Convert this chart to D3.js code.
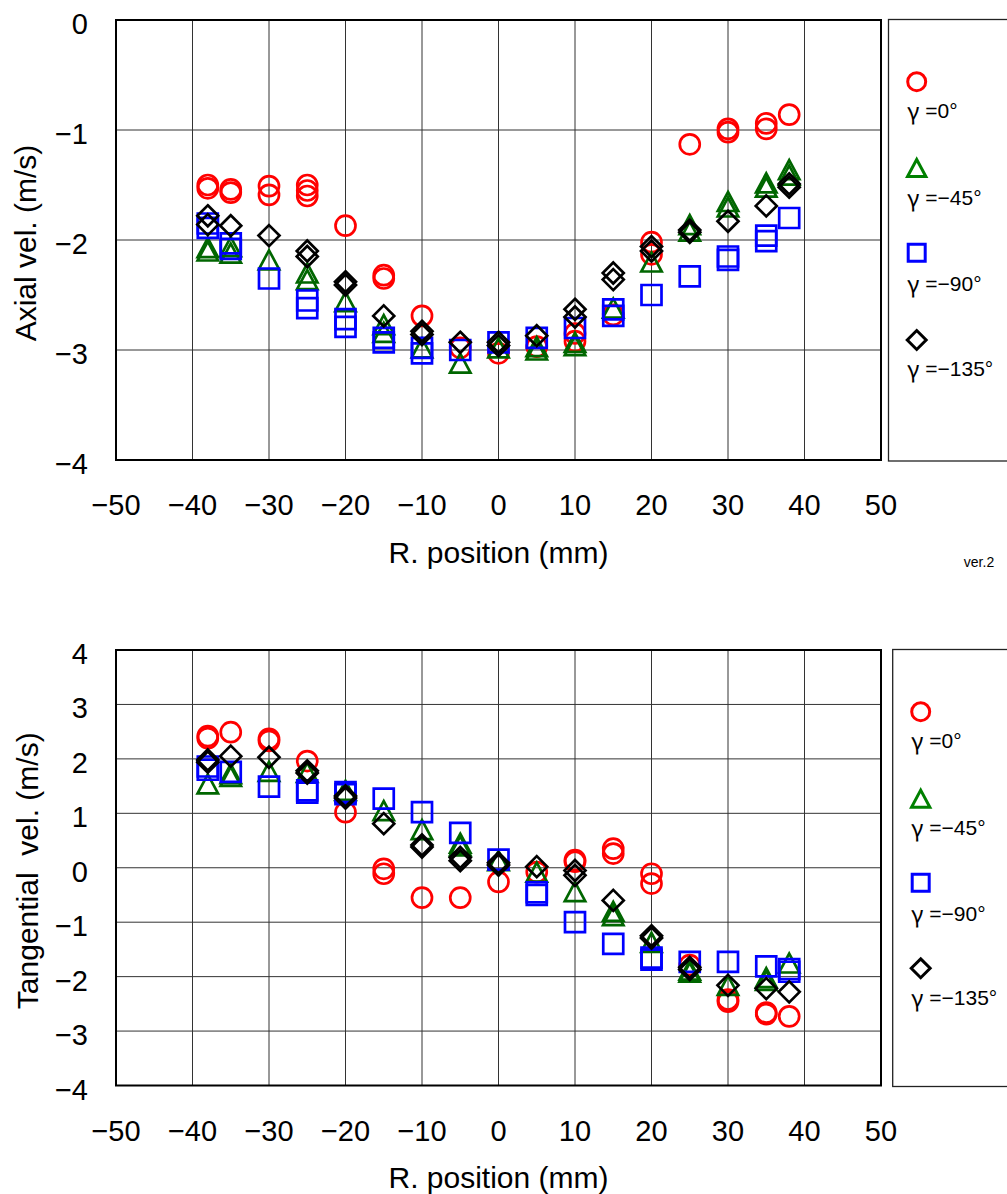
<!DOCTYPE html>
<html><head><meta charset="utf-8">
<script src="https://cdn.jsdelivr.net/npm/d3@7"></script>
<style>
html,body{margin:0;padding:0;background:#fff;}
svg{display:block;}
text{font-family:"Liberation Sans",Arial,sans-serif;fill:#000;}
</style></head>
<body>
<script>
// ---------- data ----------
const positions = [-38,-35,-30,-25,-20,-15,-10,-5,0,5,10,15,20,25,30,35,38];
const xTicks = [-50,-40,-30,-20,-10,0,10,20,30,40,50];
const axialTicks = [0,-1,-2,-3,-4];
const tangTicks = [4,3,2,1,0,-1,-2,-3,-4];
const seriesNames = ["γ =0°","γ =−45°","γ =−90°","γ =−135°"];

// repeated measurements at each position (same order as positions)
const axial0 = [[-1.50,-1.53],[-1.54,-1.57],[-1.51,-1.59],[-1.50,-1.55,-1.60],[-1.87],[-2.32,-2.35],[-2.69],[-2.98],[-3.03],[-2.97],[-2.85,-2.92],[-2.68],[-2.02,-2.13],[-1.13],[-0.99,-1.02],[-0.94,-0.99],[-0.86]];
const axial45 = [[-2.07,-2.10],[-2.06,-2.12],[-2.18],[-2.30,-2.36],[-2.56],[-2.77,-2.84],[-2.98],[-3.12],[-2.98],[-2.97,-3.00],[-2.93,-2.96],[-2.62],[-2.20],[-1.86,-1.92],[-1.65,-1.70],[-1.48,-1.52],[-1.36,-1.41]];
const axial90 = [[-1.85,-1.89],[-2.03,-2.08],[-2.35],[-2.55,-2.62],[-2.72,-2.79],[-2.89,-2.93],[-2.98,-3.03],[-3.00],[-2.93],[-2.89],[-2.80],[-2.63,-2.69],[-2.50],[-2.33],[-2.15,-2.18],[-1.96,-2.01],[-1.80]];
const axial135 = [[-1.78,-1.86],[-1.87],[-1.96],[-2.10,-2.15],[-2.38,-2.41],[-2.69],[-2.83,-2.86],[-2.93],[-2.93,-2.96],[-2.87],[-2.63,-2.70],[-2.30,-2.36],[-2.06,-2.10],[-1.91,-1.93],[-1.83],[-1.69],[-1.49,-1.52]];

const tang0 = [[2.38,2.42],[2.49],[2.33,2.37],[1.96],[1.02],[-0.02,-0.11],[-0.55],[-0.55],[-0.26],[-0.08],[0.11,0.14],[0.35,0.26],[-0.11,-0.29],[-1.79],[-2.42,-2.46],[-2.66,-2.69],[-2.73]];
const tang45 = [[1.54],[1.68,1.73],[1.77],[1.75],[1.42],[1.05],[0.70],[0.40,0.45],[0.13],[-0.08],[-0.44],[-0.80,-0.88],[-1.37],[-1.88,-1.92],[-2.16],[-2.02,-2.07],[-1.75]];
const tang90 = [[1.80,1.86],[1.76],[1.49],[1.38,1.42],[1.35,1.39],[1.27],[1.02],[0.64],[0.15],[-0.45,-0.50],[-1.00],[-1.40],[-1.65,-1.69],[-1.73],[-1.73],[-1.81],[-1.86,-1.91]];
const tang135 = [[1.94,1.98],[2.05],[2.03],[1.74,1.78],[1.28,1.32],[0.81],[0.38,0.42],[0.19,0.13],[0.05,0.09],[0.02],[-0.05,-0.14],[-0.60],[-1.25,-1.29],[-1.83,-1.87],[-2.16],[-2.22],[-2.28]];

// ---------- styles ----------
const plotColors = ["#ff0000","#006600","#0000ff","#000000"];
const legendColors = ["#ff0000","#008000","#0000ff","#000000"];
const shapes = ["circle","triangle","square","diamond"];

function shapePath(kind, s){
  if(kind==="circle") return d3.arc()({innerRadius:0,outerRadius:s,startAngle:0,endAngle:2*Math.PI});
  if(kind==="square") return `M${-s},${-s}H${s}V${s}H${-s}Z`;
  if(kind==="triangle") return `M0,${-s*0.95}L${s*1.02},${s*0.95}L${-s*1.02},${s*0.95}Z`;
  if(kind==="diamond") return `M0,${-s*1.05}L${s*1.05},0L0,${s*1.05}L${-s*1.05},0Z`;
}

const W=1007,H=1194;
const svg = d3.select("body").append("svg").attr("width",W).attr("height",H);

function drawPanel(cfg){
  const x = d3.scaleLinear().domain([-50,50]).range([116,881]);
  const y = d3.scaleLinear().domain(cfg.domain).range([cfg.bottom,cfg.top]);
  const g = svg.append("g");
  // grid
  g.selectAll(".vg").data(xTicks.slice(1,-1)).join("line")
    .attr("x1",d=>x(d)).attr("x2",d=>x(d)).attr("y1",cfg.top).attr("y2",cfg.bottom)
    .attr("stroke","#333").attr("stroke-width",1);
  g.selectAll(".hg").data(cfg.ticks.filter(t=>t!==cfg.domain[0]&&t!==cfg.domain[1])).join("line")
    .attr("x1",116).attr("x2",881).attr("y1",d=>y(d)).attr("y2",d=>y(d))
    .attr("stroke","#333").attr("stroke-width",1);
  // markers
  cfg.series.forEach((ser,si)=>{
    const pts=[];
    ser.forEach((vals,i)=>vals.forEach(v=>pts.push([positions[i],v])));
    g.append("g").selectAll("path").data(pts).join("path")
      .attr("d",shapePath(shapes[si],10))
      .attr("transform",d=>`translate(${x(d[0])},${y(d[1])})`)
      .attr("fill","none").attr("stroke",plotColors[si]).attr("stroke-width",2.7);
  });
  // frame
  g.append("rect").attr("x",116).attr("y",cfg.top).attr("width",765).attr("height",cfg.bottom-cfg.top)
    .attr("fill","none").attr("stroke","#000").attr("stroke-width",2);
  // y tick labels
  const fmt = d3.format("d");
  g.selectAll(".yl").data(cfg.ticks).join("text")
    .attr("x",88).attr("y",d=>y(d)+cfg.ydy).attr("text-anchor","end")
    .attr("dominant-baseline","central").attr("font-size",29).text(d=>fmt(d));
  // x tick labels
  g.selectAll(".xl").data(xTicks).join("text")
    .attr("x",d=>x(d)).attr("y",cfg.bottom+45).attr("text-anchor","middle")
    .attr("dominant-baseline","central").attr("font-size",29).text(d=>fmt(d));
  // titles
  g.append("text").attr("x",(116+881)/2).attr("y",cfg.bottom+92).attr("text-anchor","middle")
    .attr("dominant-baseline","central").attr("font-size",30).text("R. position (mm)");
  g.append("text").attr("transform",`translate(${cfg.ytx},${(cfg.top+cfg.bottom)/2+3}) rotate(-90)`)
    .attr("text-anchor","middle").attr("dominant-baseline","central").attr("font-size",30)
    .style("white-space","pre").text(cfg.ytitle);
  // legend
  const L = cfg.legend;
  g.append("rect").attr("x",L.x).attr("y",cfg.top-0.5).attr("width",W-L.x+5).attr("height",cfg.bottom-cfg.top+1.5)
    .attr("fill","none").attr("stroke","#222").attr("stroke-width",1.3);
  seriesNames.forEach((name,i)=>{
    g.append("path").attr("d",shapePath(shapes[i],i===2?8.5:9))
      .attr("transform",`translate(${L.mx},${L.my[i]})`)
      .attr("fill","none").attr("stroke",legendColors[i]).attr("stroke-width",3);
    const t = g.append("text").attr("x",L.tx).attr("y",L.ty[i]).attr("dominant-baseline","central")
      .attr("font-size",21);
    t.append("tspan").style("font-family","'Noto Sans CJK JP'").attr("font-size",23).text("γ");
    t.append("tspan").text(name.slice(1));
  });
}

drawPanel({domain:[-4,0],top:20,bottom:460,ticks:axialTicks,ydy:4,
  series:[axial0,axial45,axial90,axial135],ytitle:"Axial vel. (m/s)",ytx:25,
  legend:{x:888.5,mx:916.7,my:[81.7,168,252.7,340],tx:907,ty:[110,196.7,283,368]}});
drawPanel({domain:[-4,4],top:650,bottom:1085.5,ticks:tangTicks,ydy:4,
  series:[tang0,tang45,tang90,tang135],ytitle:"Tangential  vel. (m/s)",ytx:27,
  legend:{x:892.7,mx:920.7,my:[711.7,798.7,882.7,968.3],tx:911,ty:[740,826.7,913,996.7]}});

svg.append("text").attr("x",979).attr("y",562).attr("text-anchor","middle")
  .attr("dominant-baseline","central").attr("font-size",14).text("ver.2");
</script>
</body></html>
